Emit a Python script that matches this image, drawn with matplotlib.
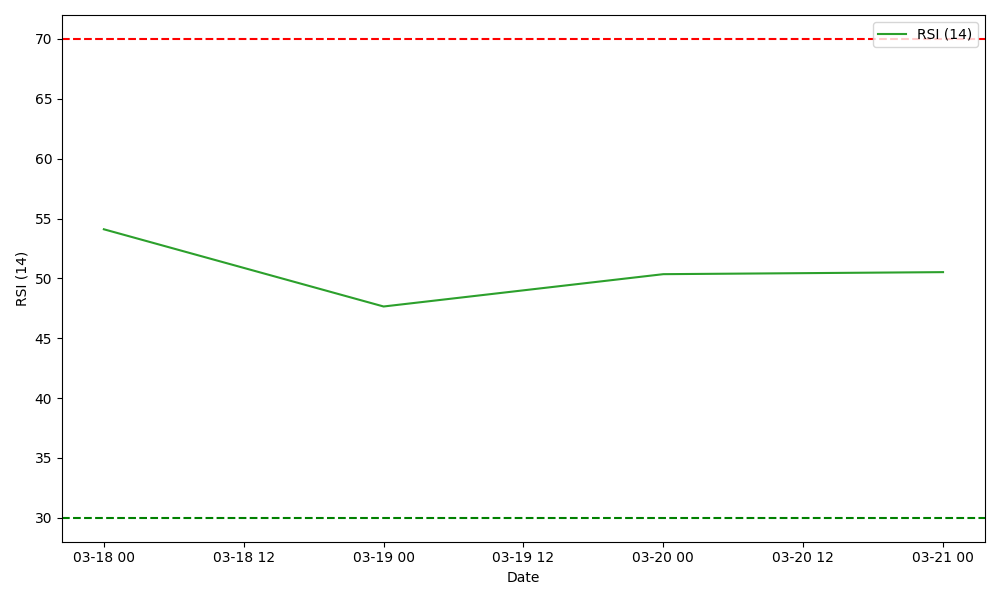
import matplotlib
matplotlib.use("Agg")
import matplotlib.pyplot as plt
import pandas as pd

dates = ["2024-03-18", "2024-03-19", "2024-03-20", "2024-03-21"]
rsi_values = [54.1, 47.65, 50.35, 50.52]
overbought = 70
oversold = 30

x = pd.to_datetime(dates)

fig, ax = plt.subplots(figsize=(10, 6), dpi=100)
ax.plot(x, rsi_values, color="tab:green", label="RSI (14)")
ax.axhline(overbought, color="red", linestyle="--")
ax.axhline(oversold, color="green", linestyle="--")
ax.set_xlabel("Date")
ax.set_ylabel("RSI (14)")
ax.legend(loc="upper right")
fig.tight_layout()
fig.savefig("out.png")
